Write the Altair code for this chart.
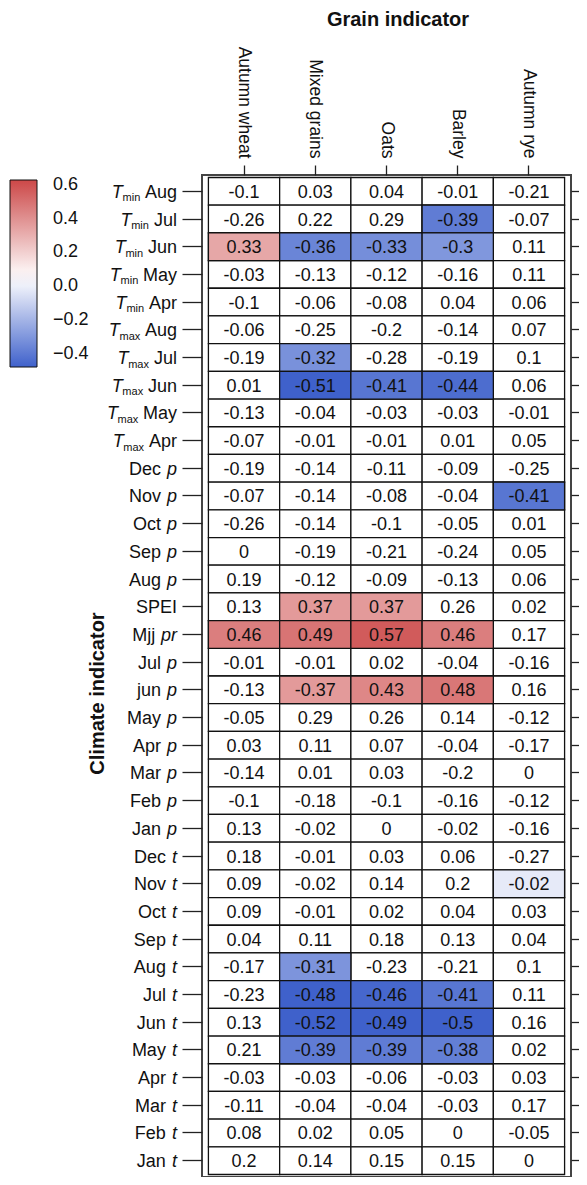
import altair as alt
import pandas as pd

FONT = "Liberation Sans"

grains = ["Autumn wheat", "Mixed grains", "Oats", "Barley", "Autumn rye"]

# Row label parts (top to bottom)
row_pre = ["T"] * 10 + [""] * 26
row_sub = ["min"] * 5 + ["max"] * 5 + [""] * 26
row_main = (["Aug", "Jul", "Jun", "May", "Apr"] * 2
            + ["Dec", "Nov", "Oct", "Sep", "Aug", "SPEI", "Mjj", "Jul", "jun",
               "May", "Apr", "Mar", "Feb", "Jan"]
            + ["Dec", "Nov", "Oct", "Sep", "Aug", "Jul", "Jun", "May", "Apr",
               "Mar", "Feb", "Jan"])
row_suf = [""] * 10 + ["p"] * 5 + ["", "pr"] + ["p"] * 7 + ["t"] * 12

# Correlation values per grain (top to bottom)
r_autumn_wheat = [-0.1, -0.26, 0.33, -0.03, -0.1, -0.06, -0.19, 0.01, -0.13, -0.07,
                  -0.19, -0.07, -0.26, 0, 0.19, 0.13, 0.46, -0.01, -0.13, -0.05,
                  0.03, -0.14, -0.1, 0.13, 0.18, 0.09, 0.09, 0.04, -0.17, -0.23,
                  0.13, 0.21, -0.03, -0.11, 0.08, 0.2]
r_mixed_grains = [0.03, 0.22, -0.36, -0.13, -0.06, -0.25, -0.32, -0.51, -0.04, -0.01,
                  -0.14, -0.14, -0.14, -0.19, -0.12, 0.37, 0.49, -0.01, -0.37, 0.29,
                  0.11, 0.01, -0.18, -0.02, -0.01, -0.02, -0.01, 0.11, -0.31, -0.48,
                  -0.52, -0.39, -0.03, -0.04, 0.02, 0.14]
r_oats = [0.04, 0.29, -0.33, -0.12, -0.08, -0.2, -0.28, -0.41, -0.03, -0.01,
          -0.11, -0.08, -0.1, -0.21, -0.09, 0.37, 0.57, 0.02, 0.43, 0.26,
          0.07, 0.03, -0.1, 0, 0.03, 0.14, 0.02, 0.18, -0.23, -0.46,
          -0.49, -0.39, -0.06, -0.04, 0.05, 0.15]
r_barley = [-0.01, -0.39, -0.3, -0.16, 0.04, -0.14, -0.19, -0.44, -0.03, 0.01,
            -0.09, -0.04, -0.05, -0.24, -0.13, 0.26, 0.46, -0.04, 0.48, 0.14,
            -0.04, -0.2, -0.16, -0.02, 0.06, 0.2, 0.04, 0.13, -0.21, -0.41,
            -0.5, -0.38, -0.03, -0.03, 0, 0.15]
r_autumn_rye = [-0.21, -0.07, 0.11, 0.11, 0.06, 0.07, 0.1, 0.06, -0.01, 0.05,
                -0.25, -0.41, 0.01, 0.05, 0.06, 0.02, 0.17, -0.16, 0.16, -0.12,
                -0.17, 0, -0.12, -0.16, -0.27, -0.02, 0.03, 0.04, 0.1, 0.11,
                0.16, 0.02, 0.03, 0.17, -0.05, 0]

# Shaded (significant) cells: value used for the fill, None = white
N = None
shade_autumn_wheat = ([N, N, 0.33, N, N] + [N] * 5 + [N] * 5
                      + [N, 0.46, N, N, N] + [N] * 5 + [N] * 5 + [N] * 6)
shade_mixed_grains = ([N, N, -0.36, N, N] + [N, -0.32, -0.51, N, N] + [N] * 5
                      + [0.37, 0.49, N, 0.37, N] + [N] * 5
                      + [N, N, N, -0.31, -0.48] + [-0.52, -0.39, N, N, N, N])
shade_oats = ([N, N, -0.33, N, N] + [N, N, -0.41, N, N] + [N] * 5
              + [0.37, 0.57, N, 0.43, N] + [N] * 5
              + [N, N, N, N, -0.46] + [-0.49, -0.39, N, N, N, N])
shade_barley = ([N, -0.39, -0.3, N, N] + [N, N, -0.44, N, N] + [N] * 5
                + [N, 0.46, N, 0.48, N] + [N] * 5
                + [N, N, N, N, -0.41] + [-0.5, -0.38, N, N, N, N])
shade_autumn_rye = ([N] * 5 + [N] * 5 + [N, -0.41, N, N, N] + [N] * 5 + [N] * 5
                    + [-0.02, N, N, N, N] + [N] * 6)

legend_values = [-0.4, -0.2, 0.0, 0.2, 0.4, 0.6]

# ---------------------------------------------------------------
row_keys = [f"{p}{s} {m} {u}".strip() for p, s, m, u in zip(row_pre, row_sub, row_main, row_suf)]

records = []
for g, rs, ss in zip(grains,
                     [r_autumn_wheat, r_mixed_grains, r_oats, r_barley, r_autumn_rye],
                     [shade_autumn_wheat, shade_mixed_grains, shade_oats, shade_barley, shade_autumn_rye]):
    for k, r, s in zip(row_keys, rs, ss):
        records.append({"row": k, "grain": g, "r": r, "shade": s, "label": f"{r:g}"})
cells = pd.DataFrame(records)
shaded = cells[cells["shade"].notna()].copy()

# approximate Liberation Sans advance widths (per 1000 em) for label layout
W = {" ": 278, "A": 667, "u": 556, "g": 556, "J": 500, "l": 222, "n": 556, "M": 833,
     "a": 556, "y": 500, "p": 556, "r": 333, "D": 722, "e": 556, "c": 500, "N": 722,
     "o": 556, "v": 500, "O": 778, "t": 278, "S": 667, "P": 667, "E": 667, "I": 278,
     "j": 222, "F": 611, "b": 556, "m": 833, "i": 222, "x": 500, "T": 611}


def tw(s, size):
    return 0.96 * sum(W.get(c, 556) for c in s) * size / 1000.0


FS = 18
SFS = 11
X_END = -25
lab_rows = []
for k, p, s, m, u in zip(row_keys, row_pre, row_sub, row_main, row_suf):
    x_suf = X_END
    x_main = X_END - (tw(u, FS) + tw(" ", FS) + 1.5 if u else 0)
    x_sub = x_main - tw(m, FS) - 6
    x_pre = x_sub - tw(s, SFS) - 0.5
    lab_rows.append({"row": k, "pre": p, "sub": s, "main": m, "suf": u,
                     "x_main": x_main, "x_sub": x_sub, "x_pre": x_pre, "x_suf": x_suf})
labs = pd.DataFrame(lab_rows)

xs = alt.Scale(domain=grains, paddingInner=0, paddingOuter=0.09)
ys = alt.Scale(domain=row_keys, paddingInner=0, paddingOuter=0.09)

base_rect = alt.Chart(cells).mark_rect(fill="white", stroke="#111", strokeWidth=1.3).encode(
    x=alt.X("grain:N", scale=xs, axis=alt.Axis(
        orient="top", labelAngle=90, labelAlign="right", labelBaseline="middle",
        labelPadding=7, labelFontSize=17.5, tickSize=10, domain=False,
        title="Grain indicator", titleFontSize=20, titleFontWeight="bold",
        titleX=195.5, titleY=-150, titleAlign="center", titleBaseline="alphabetic")),
    y=alt.Y("row:N", scale=ys, axis=alt.Axis(
        orient="left", labels=False, tickSize=20, domain=False,
        title="Climate indicator", titleFontSize=20, titleFontWeight="bold",
        titleAngle=270, titleX=-105, titleY=518, titleAlign="center",
        titleBaseline="middle")),
)

shade_rect = alt.Chart(shaded).mark_rect(stroke="#111", strokeWidth=1.3).encode(
    x=alt.X("grain:N", scale=xs, axis=None),
    y=alt.Y("row:N", scale=ys, axis=None),
    color=alt.Color("shade:Q",
                    scale=alt.Scale(domain=[-0.48, 0.05, 0.63],
                                    range=["#3f61cb", "#ffffff", "#cc4848"],
                                    clamp=True, interpolate="rgb"),
                    legend=alt.Legend(orient="none", legendX=-192, legendY=5,
                                      direction="vertical", title=None,
                                      gradientLength=187, gradientThickness=27,
                                      gradientStrokeColor="#111", gradientStrokeWidth=1,
                                      labelFontSize=FS, labelFont=FONT, labelColor="#111",
                                      labelOffset=16, values=legend_values,
                                      format=".1f", padding=0)),
)

cell_text = alt.Chart(cells).mark_text(font=FONT, fontSize=FS, color="#111",
                                       baseline="alphabetic", dy=6.5).encode(
    x=alt.X("grain:N", scale=xs, axis=None),
    y=alt.Y("row:N", scale=ys, title=None, axis=alt.Axis(
        orient="right", labels=False, tickSize=8, domain=False)),
    text="label:N",
)

main_text = alt.Chart(labs).mark_text(font=FONT, fontSize=FS, color="#111", align="right",
                                      baseline="alphabetic", dy=6.5).encode(
    x=alt.X("x_main:Q", scale=None, axis=None),
    y=alt.Y("row:N", scale=ys, axis=None),
    text="main:N",
)

sub_text = alt.Chart(labs[labs["sub"] != ""]).mark_text(
    font=FONT, fontSize=SFS, color="#111", align="right",
    baseline="alphabetic", dy=10).encode(
    x=alt.X("x_sub:Q", scale=None, axis=None),
    y=alt.Y("row:N", scale=ys, axis=None),
    text="sub:N",
)

pre_text = alt.Chart(labs[labs["pre"] != ""]).mark_text(
    font=FONT, fontSize=FS, fontStyle="italic", color="#111", align="right",
    baseline="alphabetic", dy=6.5).encode(
    x=alt.X("x_pre:Q", scale=None, axis=None),
    y=alt.Y("row:N", scale=ys, axis=None),
    text="pre:N",
)

suf_text = alt.Chart(labs[labs["suf"] != ""]).mark_text(
    font=FONT, fontSize=FS, fontStyle="italic", color="#111", align="right",
    baseline="alphabetic", dy=6.5).encode(
    x=alt.X("x_suf:Q", scale=None, axis=None),
    y=alt.Y("row:N", scale=ys, axis=None),
    text="suf:N",
)

chart = alt.layer(
    base_rect, shade_rect, cell_text, main_text, sub_text, pre_text, suf_text
).resolve_axis(
    x="independent", y="independent"
).properties(
    width=369, height=1002,
    autosize=alt.AutoSizeParams(type="none"),
    padding={"left": 194, "top": 167, "right": 8, "bottom": 0},
).configure_view(
    stroke="#444", strokeWidth=2
).configure_axis(
    labelFont=FONT, titleFont=FONT, labelColor="#111", titleColor="#111",
    tickColor="#222", tickWidth=1.3, grid=False
)

chart.save("out.html", embed_options={"renderer": "svg", "actions": False})
